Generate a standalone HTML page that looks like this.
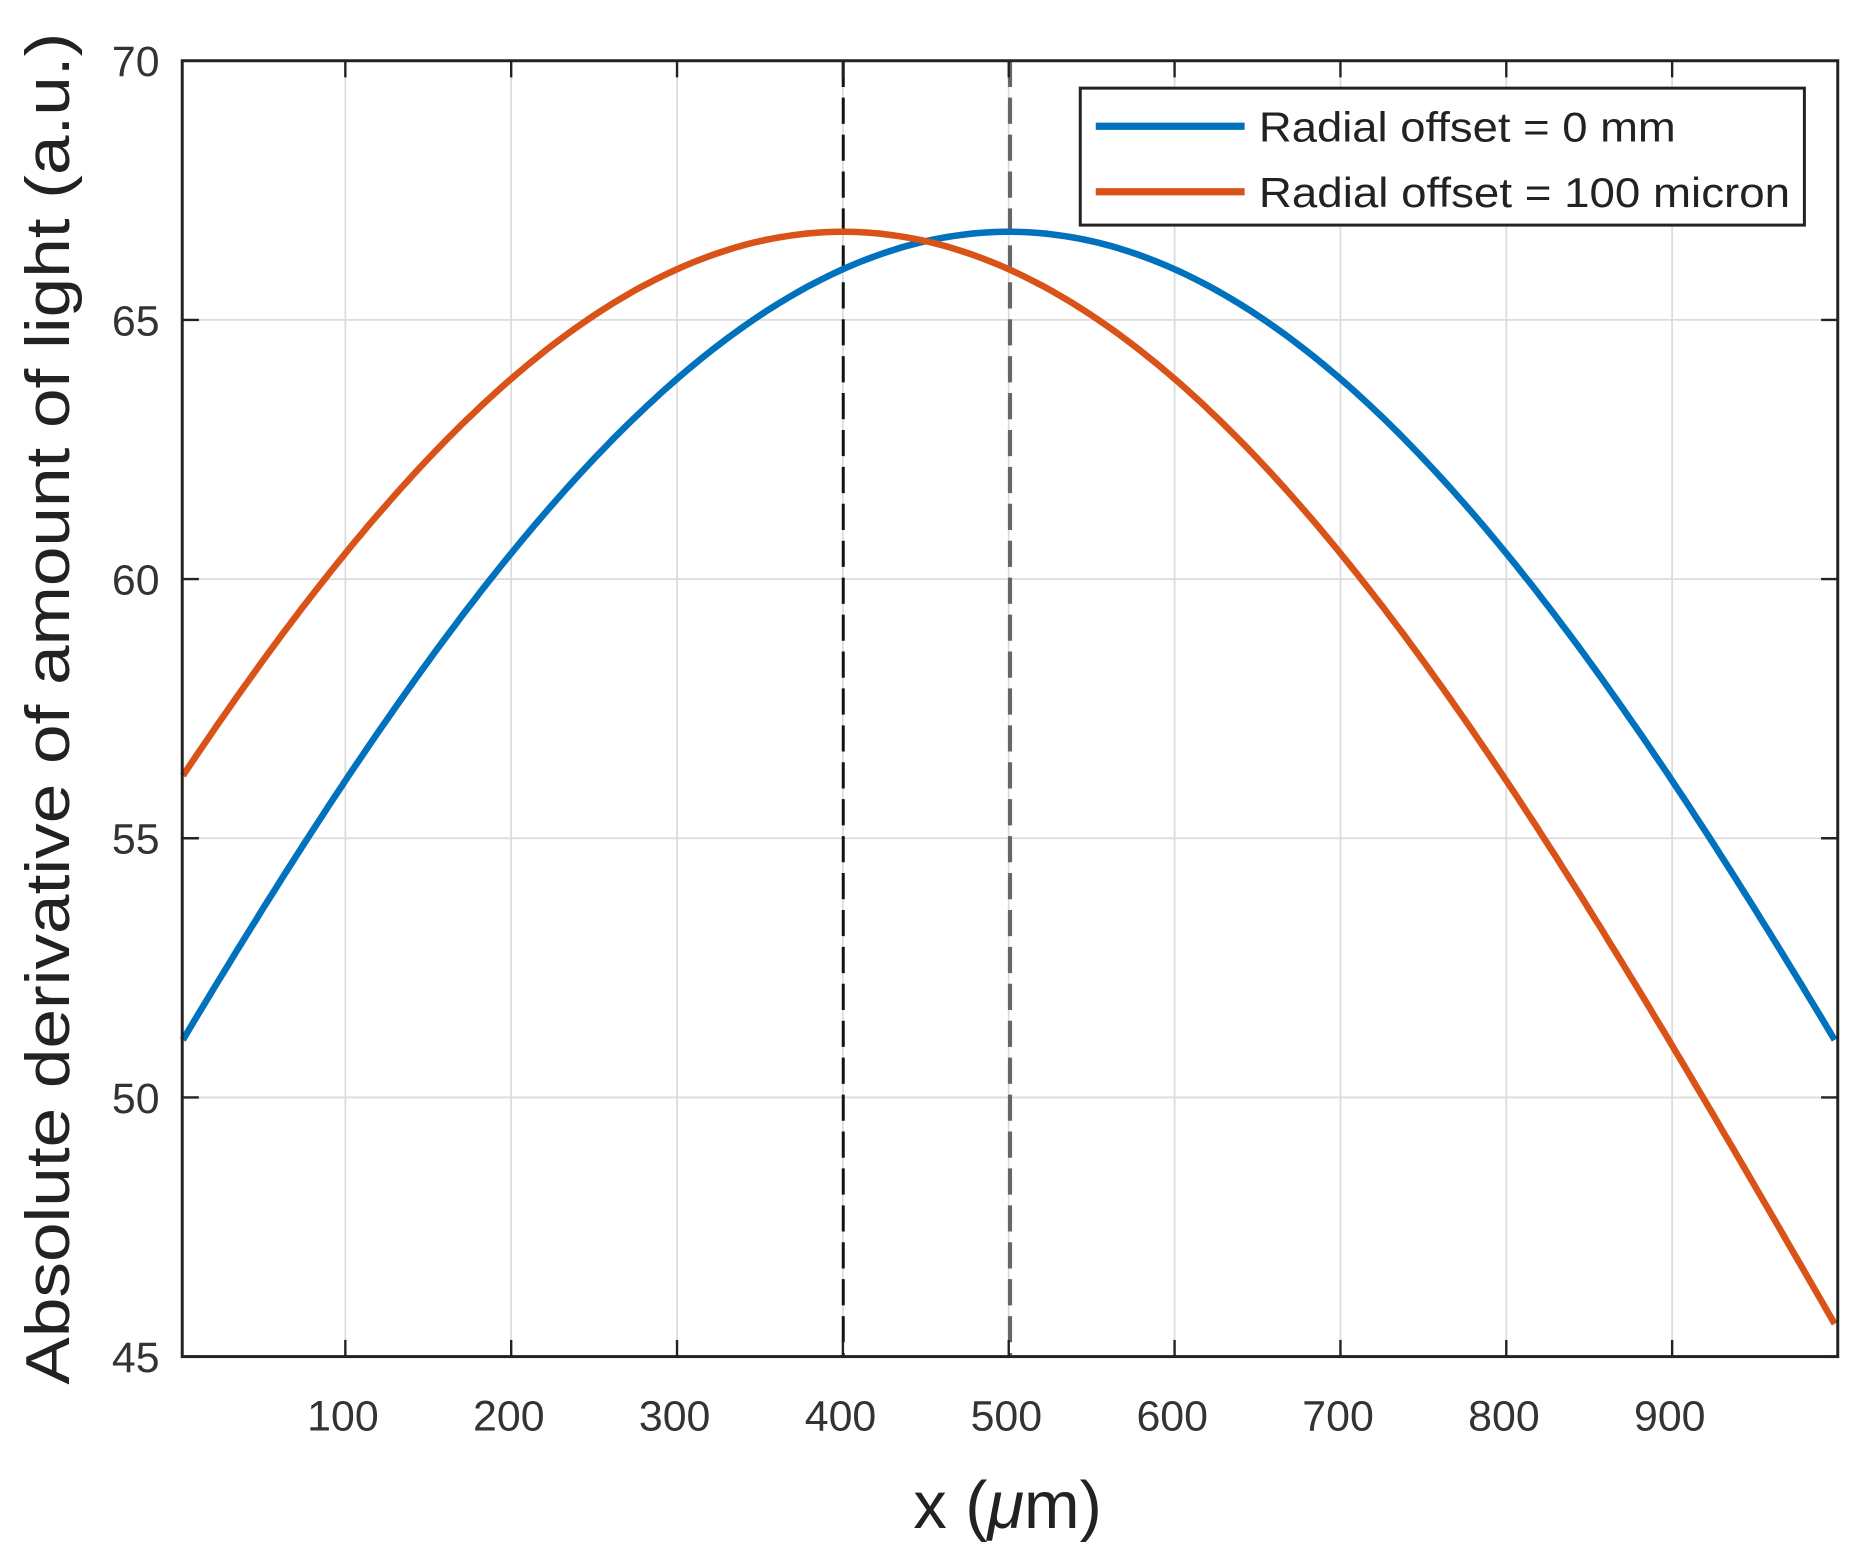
<!DOCTYPE html>
<html><head><meta charset="utf-8"><style>html,body{margin:0;padding:0;background:#fff}svg{display:block}</style></head>
<body>
<svg id="s" width="1868" height="1563" viewBox="0 -1 1568.4 1312.3" preserveAspectRatio="none" xmlns="http://www.w3.org/2000/svg" font-family="Liberation Sans, sans-serif">
<rect y="-1" width="1570" height="1314" fill="#fff"/>
<g id="grid" stroke="#dcdcdc" stroke-width="1.5"></g>
<line x1="708" y1="50" x2="708" y2="1138" stroke="#111" stroke-width="2.5" stroke-dasharray="22,9"/>
<line x1="848" y1="50" x2="848" y2="1138" stroke="#666" stroke-width="3.5" stroke-dasharray="22,9"/>
<path id="blue" fill="none" stroke="#0072BD" stroke-width="5.5"/>
<path id="orange" fill="none" stroke="#D95319" stroke-width="5.5"/>
<g id="ticks" stroke="#222" stroke-width="2"></g>
<rect x="153" y="50" width="1390" height="1088" fill="none" stroke="#222" stroke-width="2.5"/>
<g id="labels" font-size="36" fill="#333"></g>
<text transform="translate(58,594) rotate(-90)" text-anchor="middle" font-size="52" fill="#222" textLength="1135" lengthAdjust="spacingAndGlyphs">Absolute derivative of amount of light (a.u.)</text>
<text x="846" y="1282" text-anchor="middle" font-size="56" fill="#222">x (<tspan font-style="italic">μ</tspan>m)</text>
<rect x="907" y="73" width="608" height="115" fill="#fff" stroke="#222" stroke-width="2.5"/>
<line x1="920" y1="105" x2="1045" y2="105" stroke="#0072BD" stroke-width="6"/>
<line x1="920" y1="160" x2="1045" y2="160" stroke="#D95319" stroke-width="6"/>
<text x="1057" y="118" font-size="35" fill="#222" textLength="350" lengthAdjust="spacingAndGlyphs">Radial offset = 0 mm</text>
<text x="1057" y="173" font-size="35" fill="#222" textLength="446" lengthAdjust="spacingAndGlyphs">Radial offset = 100 micron</text>
</svg>
<script>
const L=153,R=1543,T=50,B=1138;
const xs=x=>150.7+x*1.3925;
const ys=v=>T+(70-v)/25*(B-T);
const f=x=>66.7-21.18*(1-Math.cos(Math.PI/1200*(x-500)));
const ns="http://www.w3.org/2000/svg";
function mk(p,tag,a){const e=document.createElementNS(ns,tag);for(const k in a)e.setAttribute(k,a[k]);p.appendChild(e);return e;}
let d1="",d2="";
for(let x=2;x<=1000;x+=4){const px=Math.min(xs(x),R);d1+=(x==2?"M":"L")+px.toFixed(1)+","+ys(f(x)).toFixed(1);d2+=(x==2?"M":"L")+px.toFixed(1)+","+ys(f(x+100)).toFixed(1);}
document.getElementById("blue").setAttribute("d",d1);
document.getElementById("orange").setAttribute("d",d2);
const g=document.getElementById("grid"),t=document.getElementById("ticks"),lb=document.getElementById("labels");
for(let v=100;v<=900;v+=100){const px=xs(v);mk(g,"line",{x1:px,y1:T,x2:px,y2:B});mk(t,"line",{x1:px,y1:B,x2:px,y2:B-14});mk(t,"line",{x1:px,y1:T,x2:px,y2:T+14});const e=mk(lb,"text",{x:px-2,y:1200,"text-anchor":"middle"});e.textContent=v;}
for(let v=45;v<=70;v+=5){const py=ys(v);if(v>45&&v<70)mk(g,"line",{x1:L,y1:py,x2:R,y2:py});mk(t,"line",{x1:L,y1:py,x2:L+14,y2:py});mk(t,"line",{x1:R,y1:py,x2:R-14,y2:py});const e=mk(lb,"text",{x:134,y:py+13,"text-anchor":"end"});e.textContent=v;}
</script>
</body></html>
